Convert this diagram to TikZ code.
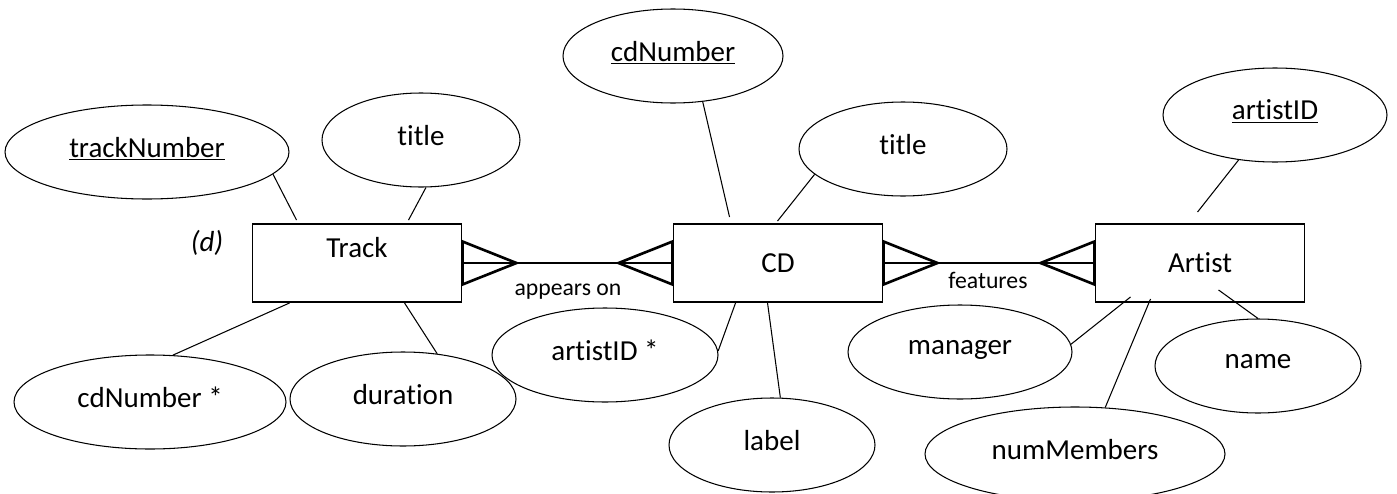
\documentclass[tikz,border=0pt]{standalone}
\usepackage{fontspec}
\setmainfont{Carlito}[Ligatures=NoCommon]
\usetikzlibrary{shapes.geometric}

\begin{document}
\begin{tikzpicture}[
        entity/.style={draw, rectangle, line width=1.1pt, minimum width=4.18cm, minimum height=1.56cm, inner sep=0pt, font=\fontsize{16.5}{20}\selectfont},
        attr/.style={draw, ellipse, line width=0.6pt, minimum height=1.88cm, inner sep=0pt, text depth=0.2cm, font=\fontsize{16.5}{20}\selectfont},
        link/.style={line width=0.6pt},
        crow/.style={line width=1.5pt, line join=miter},
        rel/.style={font=\fontsize{13.5}{16}\selectfont}
    ]
        \useasboundingbox (0,0) rectangle (27.94,9.86);
        % 实体
        \node[entity, text depth=0.64cm] (track) at (7.14,4.6) {Track};
        \node[entity] (cd) at (15.56,4.6) {CD};
        \node[entity] (artist) at (24.0,4.6) {Artist};
        \node[font=\fontsize{16.5}{20}\selectfont\itshape] (tag) at (4.14,5.0) {(d)};
        % 联系
        \draw[line width=1.1pt] (track.east) -- (cd.west);
        \draw[crow] (track.east) ++(0,0.43) -- ++(1.08,-0.43) -- ++(-1.08,-0.43) -- cycle;
        \draw[crow] (cd.west) ++(0,0.43) -- ++(-1.08,-0.43) -- ++(1.08,-0.43) -- cycle;
        \node[rel] (appears) at (11.36,4.02) {appears on};
        \draw[line width=1.1pt] (cd.east) -- (artist.west);
        \draw[crow] (cd.east) ++(0,0.43) -- ++(1.08,-0.43) -- ++(-1.08,-0.43) -- cycle;
        \draw[crow] (artist.west) ++(0,0.43) -- ++(-1.08,-0.43) -- ++(1.08,-0.43) -- cycle;
        \node[rel] (features) at (19.76,4.26) {features};
        % Track 的属性
        \node[attr, minimum width=5.68cm] (tnum) at (2.94,6.82) {\underline{trackNumber}};
        \node[attr, minimum width=3.96cm] (ttitle) at (8.42,7.06) {title};
        \node[attr, minimum width=5.44cm] (cdfk) at (3.0,1.82) {cdNumber *};
        \node[attr, minimum width=4.52cm] (dur) at (8.06,1.88) {duration};
        \draw[link] (tnum.-10) -- ([xshift=0.9cm,yshift=0.06cm]track.north west);
        \draw[link] (ttitle.-84) -- ([xshift=3.14cm,yshift=0.06cm]track.north west);
        \draw[link] (cdfk.64) -- ([xshift=0.76cm]track.south west);
        \draw[link] (dur.53) -- ([xshift=3.06cm]track.south west);
        % CD 的属性
        \node[attr, minimum width=4.4cm] (cdnum) at (13.46,8.74) {\underline{cdNumber}};
        \node[attr, minimum width=4.16cm] (cdtitle) at (18.06,6.88) {title};
        \node[attr, minimum width=4.52cm] (artfk) at (12.1,2.76) {artistID *};
        \node[attr, minimum width=4.12cm] (label) at (15.44,0.96) {label};
        \draw[link] (cdnum.-57) -- ([xshift=1.14cm,yshift=0.12cm]cd.north west);
        \draw[link] (cdtitle.196) -- ([xshift=2.1cm,yshift=0.04cm]cd.north west);
        \draw[link] (artfk.2) -- ([xshift=1.26cm]cd.south west);
        \draw[link] (label.80) -- ([xshift=1.9cm]cd.south west);
        % Artist 的属性
        \node[attr, minimum width=4.48cm] (aid) at (25.5,7.56) {\underline{artistID}};
        \node[attr, minimum width=4.48cm] (manager) at (19.2,2.82) {manager};
        \node[attr, minimum width=4.12cm] (name) at (25.16,2.54) {name};
        \node[attr, minimum width=6.0cm] (nmem) at (21.5,0.78) {numMembers};
        \draw[link] (aid.231) -- ([xshift=2.06cm,yshift=0.22cm]artist.north west);
        \draw[link] (manager.4) -- ([xshift=0.72cm,yshift=0.12cm]artist.south west);
        \draw[link] (nmem.57) -- ([xshift=1.12cm,yshift=0.08cm]artist.south west);
        \draw[link] (name.north) -- ([xshift=2.48cm,yshift=0.26cm]artist.south west);
    \end{tikzpicture}
\end{document}
